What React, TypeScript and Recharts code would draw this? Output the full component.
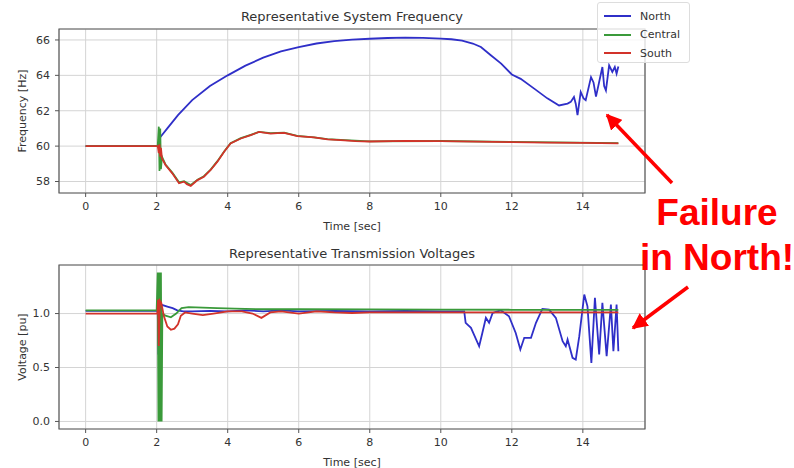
import React from 'react';
import {
  LineChart,
  Line,
  XAxis,
  YAxis,
  CartesianGrid,
  Legend,
  ReferenceArea,
} from 'recharts';

// time [sec] / value pairs
const freqNorth: number[][] = [
  [0, 60], [2.05, 60], [2.08, 60.2], [2.1, 60.5], [2.3, 61.0], [2.6, 61.75], [3.0, 62.6],
  [3.5, 63.4], [4.0, 64.0], [4.5, 64.55], [5.0, 65.0], [5.5, 65.35], [6.0, 65.6], [6.5, 65.8],
  [7.0, 65.93], [7.5, 66.02], [8.0, 66.07], [8.5, 66.11], [9.0, 66.13], [9.5, 66.12],
  [10.0, 66.08], [10.3, 66.04], [10.6, 65.96], [10.9, 65.8], [11.13, 65.6], [11.4, 65.15],
  [11.7, 64.66], [12.0, 64.05], [12.25, 63.8], [12.63, 63.25], [13.0, 62.7], [13.33, 62.3],
  [13.57, 62.4], [13.66, 62.5], [13.75, 62.78], [13.8, 62.4], [13.85, 61.75], [13.94, 63.06],
  [14.02, 62.7], [14.08, 62.6], [14.23, 63.9], [14.3, 63.6], [14.37, 62.8], [14.55, 64.47],
  [14.6, 63.4], [14.65, 63.15], [14.74, 64.56], [14.83, 64.19], [14.9, 64.47], [14.95, 64.1],
  [15.0, 64.5],
];

const freqCentral: number[][] = [
  [0, 60], [2.03, 60], [2.06, 61.1], [2.08, 58.6], [2.1, 61.0], [2.12, 58.7], [2.15, 59.4],
  [2.25, 58.95], [2.44, 58.5], [2.63, 57.95], [2.77, 58.02], [2.96, 57.8], [3.15, 58.1],
  [3.33, 58.3], [3.52, 58.67], [3.71, 59.15], [3.9, 59.7], [4.08, 60.17], [4.37, 60.45],
  [4.65, 60.64], [4.88, 60.8], [5.21, 60.73], [5.59, 60.76], [5.96, 60.58], [6.43, 60.5],
  [6.81, 60.4], [7.18, 60.35], [8.0, 60.27], [10.0, 60.29], [12.0, 60.24], [15.0, 60.17],
];

const freqSouth: number[][] = [
  [0, 60], [2.03, 60], [2.06, 59.6], [2.08, 60.1], [2.1, 59.4], [2.12, 59.9], [2.15, 59.3],
  [2.25, 58.93], [2.44, 58.46], [2.63, 57.9], [2.77, 57.99], [2.85, 57.85], [2.96, 57.75],
  [3.15, 58.08], [3.33, 58.27], [3.52, 58.65], [3.71, 59.12], [3.9, 59.68], [4.08, 60.15],
  [4.37, 60.43], [4.65, 60.62], [4.88, 60.8], [5.21, 60.71], [5.4, 60.73], [5.59, 60.75],
  [5.96, 60.56], [6.43, 60.49], [6.81, 60.38], [7.18, 60.34], [7.6, 60.28], [8.0, 60.26],
  [9.0, 60.3], [10.0, 60.28], [11.0, 60.25], [12.0, 60.23], [13.0, 60.2], [14.0, 60.18],
  [15.0, 60.15],
];

const voltNorth: number[][] = [
  [0, 1.025], [2.03, 1.025], [2.05, 0.62], [2.08, 1.1], [2.15, 1.08], [2.3, 1.065],
  [2.45, 1.05], [2.58, 1.03], [2.75, 1.02], [3.0, 1.02], [3.5, 1.025], [4.0, 1.02],
  [4.5, 1.03], [5.0, 1.02], [5.5, 1.03], [6.0, 1.02], [7.0, 1.025], [8.0, 1.02], [9.0, 1.025],
  [10.0, 1.02], [10.66, 1.02], [10.7, 0.914], [10.85, 0.867], [11.08, 0.697], [11.17, 0.82],
  [11.27, 0.96], [11.36, 0.914], [11.46, 1.006], [11.69, 1.03], [11.92, 0.975], [12.11, 0.82],
  [12.24, 0.667], [12.35, 0.775], [12.54, 0.775], [12.68, 0.914], [12.86, 1.043],
  [13.05, 1.037], [13.24, 0.96], [13.43, 0.744], [13.52, 0.697], [13.57, 0.76], [13.71, 0.59],
  [13.8, 0.574], [13.9, 0.79], [14.04, 1.176], [14.13, 1.067], [14.24, 0.543], [14.34, 1.145],
  [14.46, 0.62], [14.55, 1.099], [14.67, 0.605], [14.79, 1.083], [14.86, 0.651],
  [14.95, 1.083], [15.0, 0.651],
];

const voltCentral: number[][] = [
  [0, 1.03], [2.0, 1.03], [2.03, 1.38], [2.05, 0.0], [2.08, 1.38], [2.1, 0.0], [2.12, 1.38],
  [2.14, 0.0], [2.16, 1.0], [2.25, 0.98], [2.4, 0.965], [2.55, 1.0], [2.7, 1.05], [2.9, 1.06],
  [3.3, 1.055], [3.7, 1.05], [4.2, 1.045], [5.0, 1.04], [6.0, 1.04], [8.0, 1.038],
  [10.0, 1.036], [12.0, 1.035], [15.0, 1.035],
];

const voltSouth: number[][] = [
  [0, 1.0], [2.02, 1.0], [2.04, 1.13], [2.06, 0.7], [2.09, 1.12], [2.13, 1.1], [2.2, 0.98],
  [2.3, 0.88], [2.4, 0.85], [2.5, 0.86], [2.6, 0.9], [2.68, 0.98], [2.8, 1.01], [3.0, 1.0],
  [3.3, 0.985], [3.6, 1.0], [4.0, 1.02], [4.4, 1.02], [4.7, 1.0], [4.95, 0.96], [5.2, 1.01],
  [5.5, 1.02], [6.0, 1.0], [6.5, 1.02], [7.0, 1.01], [7.5, 1.005], [8.0, 1.01], [9.0, 1.01],
  [10.0, 1.01], [12.0, 1.01], [15.0, 1.01],
];

const regions = ['North', 'Central', 'South'];
const timeTicks = [0, 2, 4, 6, 8, 10, 12, 14];
const freqTicks = [58, 60, 62, 64, 66];
const voltTicks = [0, 0.5, 1.0];

const colors = ['#2f2fc8', '#3a9a3a', '#d2332a'];
const FONT = '"DejaVu Sans", sans-serif';
const X_DOMAIN: [number, number] = [-0.75, 15.75];
const FREQ_DOMAIN: [number, number] = [57.35, 66.62];
const VOLT_DOMAIN: [number, number] = [-0.07, 1.45];

const toRows = (pairs: number[][]) => pairs.map(([t, v]) => ({ t, v }));

const tickStyle = { fontSize: 11, fill: '#333', fontFamily: FONT };

const LegendBox = (props: any) => {
  // keep plotting order (recharts sorts alphabetically by default)
  const items = [...(props.payload || [])].sort(
    (a: any, b: any) => regions.indexOf(a.value) - regions.indexOf(b.value)
  );
  return (
    <div
      style={{
        width: 93,
        height: 61,
        background: 'rgba(255,255,255,0.8)',
        border: '1px solid #ddd',
        borderRadius: 3,
        boxSizing: 'border-box',
        padding: '4px 0 0 6px',
        fontFamily: FONT,
        fontSize: 11,
        color: '#333',
      }}
    >
      {items.map((p: any) => (
        <div key={p.value} style={{ display: 'flex', alignItems: 'center', height: 18.5 }}>
          <span style={{ display: 'inline-block', width: 27, height: 2, background: p.color, marginRight: 9 }} />
          <span>{p.value}</span>
        </div>
      ))}
    </div>
  );
};

interface PanelProps {
  series: number[][][];
  domain: [number, number];
  ticks: number[];
  yLabel: string;
  fmt?: (v: number) => string;
  legend?: boolean;
}

const Panel = ({ series, domain, ticks, yLabel, fmt, legend }: PanelProps) => (
  <LineChart width={794} height={232} margin={{ top: 29, right: 149, bottom: 0, left: 0 }}>
    <CartesianGrid stroke="#d4d4d4" strokeWidth={1} />
    <XAxis
      type="number"
      dataKey="t"
      domain={X_DOMAIN}
      ticks={timeTicks}
      allowDataOverflow
      height={39}
      tickSize={4}
      tickMargin={5}
      axisLine={false}
      tickLine={{ stroke: '#555' }}
      tick={tickStyle}
      label={{ value: 'Time [sec]', position: 'insideBottom', offset: 2, style: { ...tickStyle } }}
    />
    <YAxis
      type="number"
      dataKey="v"
      domain={domain}
      ticks={ticks}
      allowDataOverflow
      width={59}
      tickSize={4}
      tickMargin={5}
      axisLine={false}
      tickLine={{ stroke: '#555' }}
      tick={tickStyle}
      tickFormatter={fmt}
      label={{
        value: yLabel,
        angle: -90,
        position: 'insideLeft',
        offset: 22,
        style: { ...tickStyle, textAnchor: 'middle' },
      }}
    />
    <ReferenceArea
      x1={X_DOMAIN[0]}
      x2={X_DOMAIN[1]}
      y1={domain[0]}
      y2={domain[1]}
      fill="none"
      stroke="#5a5a5a"
      strokeWidth={1.2}
      ifOverflow="visible"
    />
    {series.map((s, i) => (
      <Line
        key={regions[i]}
        name={regions[i]}
        data={toRows(s)}
        dataKey="v"
        type="linear"
        stroke={colors[i]}
        strokeWidth={1.8}
        dot={false}
        activeDot={false}
        isAnimationActive={false}
      />
    ))}
    {legend && (
      <Legend
        layout="vertical"
        align="center"
        verticalAlign="middle"
        content={<LegendBox />}
        wrapperStyle={{ left: 597, top: 2, width: 93, height: 61 }}
      />
    )}
  </LineChart>
);

const titleStyle: React.CSSProperties = {
  position: 'absolute',
  left: 59,
  width: 586,
  textAlign: 'center',
  fontFamily: FONT,
  fontSize: 13,
  color: '#333',
  lineHeight: '16px',
};

export default function App() {
  return (
    <div style={{ position: 'absolute', left: 0, top: 0, width: 794, height: 468, background: '#fff', overflow: 'hidden' }}>
      <div style={{ position: 'absolute', left: 0, top: 0 }}>
        <Panel
          series={[freqNorth, freqCentral, freqSouth]}
          domain={FREQ_DOMAIN}
          ticks={freqTicks}
          yLabel="Frequency [Hz]"
          legend
        />
      </div>
      <div style={{ position: 'absolute', left: 0, top: 236 }}>
        <Panel
          series={[voltNorth, voltCentral, voltSouth]}
          domain={VOLT_DOMAIN}
          ticks={voltTicks}
          yLabel="Voltage [pu]"
          fmt={(v: number) => v.toFixed(1)}
        />
      </div>
      <div style={{ ...titleStyle, top: 9 }}>Representative System Frequency</div>
      <div style={{ ...titleStyle, top: 246 }}>Representative Transmission Voltages</div>
      <svg width={794} height={468} style={{ position: 'absolute', left: 0, top: 0, pointerEvents: 'none' }}>
        <defs>
          <marker id="head" viewBox="0 0 10 10" refX="9" refY="5" markerWidth="4.5" markerHeight="4.5" orient="auto">
            <path d="M0,0 L10,5 L0,10 z" fill="#ff0000" />
          </marker>
        </defs>
        <line x1={672} y1={183} x2={607} y2={115} stroke="#ff0000" strokeWidth={3.5} markerEnd="url(#head)" />
        <line x1={688} y1={287} x2={633} y2={328} stroke="#ff0000" strokeWidth={3.5} markerEnd="url(#head)" />
        <text x={717} y={225} textAnchor="middle" fill="#ff0000" fontFamily="'Liberation Sans', Arial, sans-serif" fontWeight="bold" fontSize={37}>
          Failure
        </text>
        <text x={717} y={270} textAnchor="middle" fill="#ff0000" fontFamily="'Liberation Sans', Arial, sans-serif" fontWeight="bold" fontSize={37}>
          in North!
        </text>
      </svg>
    </div>
  );
}
